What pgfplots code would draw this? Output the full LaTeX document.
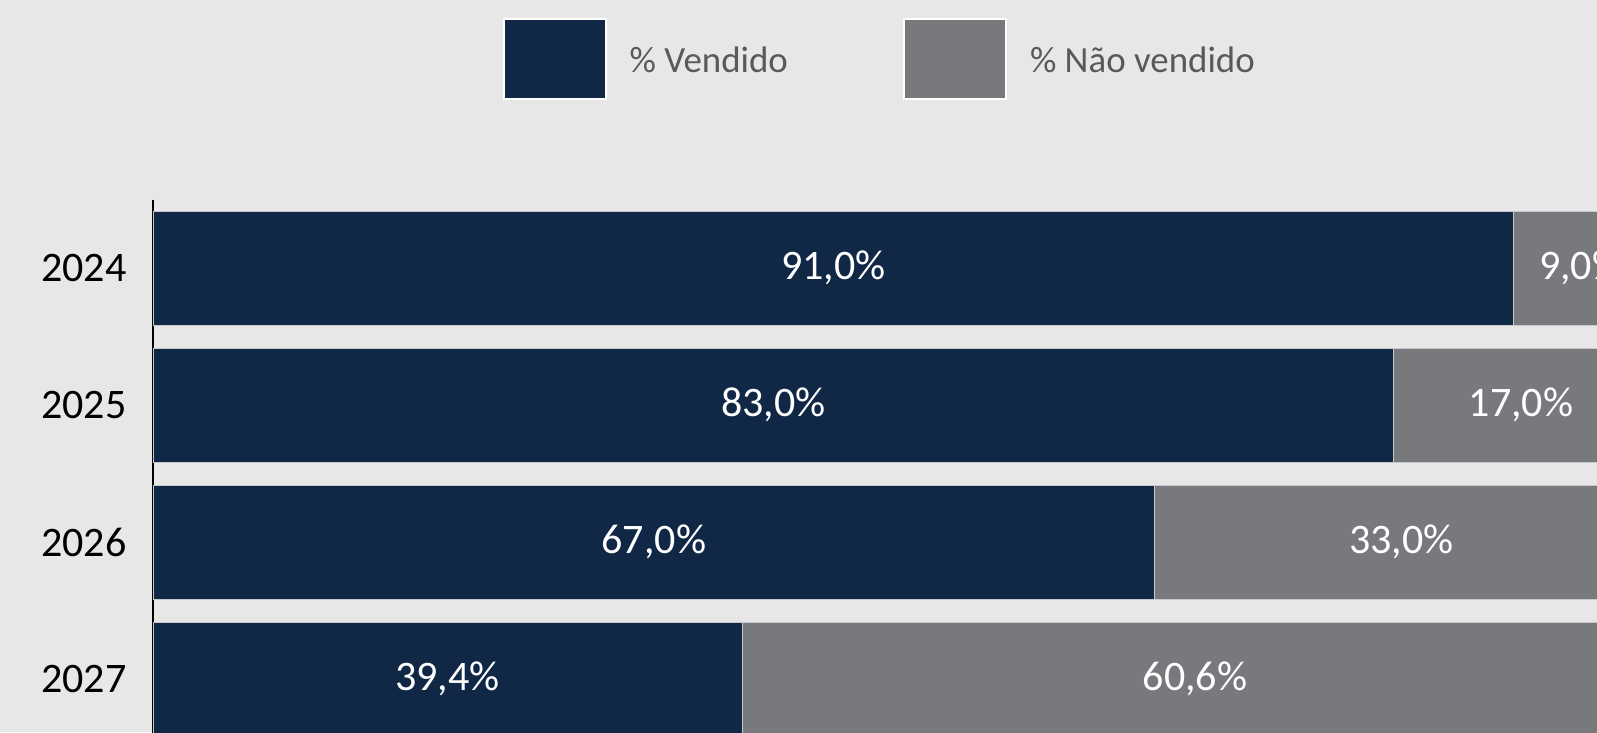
\documentclass[border=0pt]{standalone}
\usepackage{fontspec}
\setmainfont{Carlito}
\usepackage{pgfplots}
\pgfplotsset{compat=1.18}
\definecolor{navy}{HTML}{102846}
\definecolor{slate}{HTML}{78797D}
\definecolor{bg}{HTML}{E7E7E7}
\definecolor{legtext}{HTML}{595959}
\definecolor{edge}{HTML}{C8C9CB}

\pgfplotsset{
  chartbox/.style={
    at={(15.3mm,-1.55mm)}, anchor=south west,
    scale only axis, width=149.5mm, height=54.8mm,
    xmin=0, xmax=100, ymin=-0.5, ymax=3.5, y dir=reverse,
  },
}

\begin{document}
\begin{tikzpicture}
\fill[bg] (0,0) rectangle (159.7mm,73.2mm);
\path[use as bounding box] (0,0) rectangle (159.7mm,73.2mm);
\clip (0,0) rectangle (159.7mm,73.2mm);

\begin{axis}[chartbox,
  xbar stacked, bar width=11.4mm,
  axis x line=none, axis y line*=left,
  y axis line style={black, line width=0.2mm, -},
  ytick={0,1,2,3}, yticklabels={2024,2025,2026,2027},
  major tick length=0pt,
  yticklabel style={font=\fontsize{11.96}{14}\selectfont, text=black, inner sep=0pt, xshift=-2.6mm},
  legend image code/.code={\draw[#1, draw=white, line width=0.2mm] (0mm,-3.7mm) rectangle (10.2mm,4.3mm);},
  legend style={at={(0.2334,1.2564)}, anchor=west, draw=none, fill=none, inner sep=0pt,
    font=\fontsize{10.5}{12}\selectfont, text=legtext,
    /tikz/every odd column/.append style={column sep=1.6mm},
    /tikz/every even column/.append style={column sep=10.8mm}},
  legend columns=2, legend cell align=left,
]
\addplot[fill=navy, draw=edge, line width=0.1mm] coordinates {(91,0) (83,1) (67,2) (39.4,3)};
\addplot[fill=slate, draw=edge, line width=0.1mm] coordinates {(9,0) (17,1) (33,2) (60.6,3)};
\legend{\% Vendido, \% Não vendido}
\end{axis}

% centred value labels
\begin{axis}[chartbox, hide axis, clip=false]
\addplot[only marks, mark=none,
  nodes near coords, point meta=explicit symbolic,
  every node near coord/.append style={anchor=center, text=white, font=\fontsize{11.96}{14}\selectfont}]
  coordinates {(45.5,0) [{91,0\%}] (41.5,1) [{83,0\%}] (33.5,2) [{67,0\%}] (19.7,3) [{39,4\%}]
               (95.5,0) [{9,0\%}] (91.5,1) [{17,0\%}] (83.5,2) [{33,0\%}] (69.7,3) [{60,6\%}]};
\end{axis}
\end{tikzpicture}
\end{document}
